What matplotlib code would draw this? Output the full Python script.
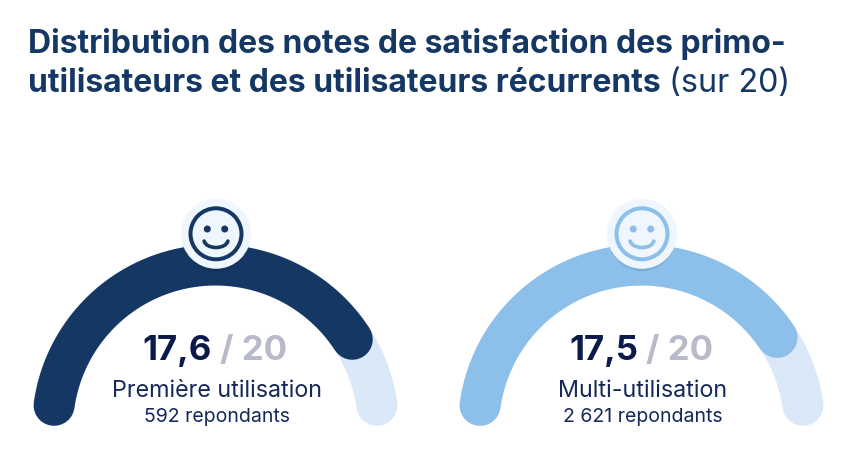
import numpy as np
import matplotlib
matplotlib.use("Agg")
import matplotlib.pyplot as plt
from matplotlib.patches import Circle, Arc

labels = ["Première utilisation", "Multi-utilisation"]
respondents = ["592 repondants", "2 621 repondants"]
scores = [17.6, 17.5]
score_labels = ["17,6", "17,5"]
max_score = 20
fill_colors = ["#153764", "#8CC0EA"]
title_dark = "#153764"
label_dark = "#14295A"

plt.rcParams['font.family'] = ['Inter', 'DejaVu Sans']
fig = plt.figure(figsize=(8.64, 4.62), dpi=100)
ax = fig.add_axes([0, 0, 1, 1])
ax.set_xlim(0, 864)
ax.set_ylim(462, 0)
ax.axis("off")
px = 0.72

R = 163
cy = 428
centers = [215.5, 641.5]
START, END, SWEEP = 172, 8, 158

def arc_line(cx, a0, a1):
    t = np.radians(np.linspace(a0, a1, 200))
    return cx + R * np.cos(t), cy - R * np.sin(t)

for cx, v, col, lab, resp, sl in zip(centers, scores, fill_colors, labels, respondents, score_labels):
    x, y = arc_line(cx, START, END)
    ax.plot(x, y, color="#DBE8F8", lw=41 * px, solid_capstyle="round", zorder=1)
    x, y = arc_line(cx, START, START - v / max_score * SWEEP)
    ax.plot(x, y, color=col, lw=41 * px, solid_capstyle="round", zorder=2)
    # badge
    shadow = "#123158" if col == fill_colors[0] else "#78ACD6"
    ax.add_patch(Circle((cx + 0.5, 237.5), 33.5, color=shadow, zorder=3, lw=0))
    ax.add_patch(Circle((cx + 0.5, 233.8), 35, color="#EFF6FD", zorder=4, lw=0))
    ax.add_patch(Circle((cx + 0.5, 233.8), 25.5, fill=False, ec=col, lw=4 * px, zorder=5))
    for dx in (-8.7, 8.7):
        ax.add_patch(Circle((cx + 0.5 + dx, 229), 3.5, color=col, lw=0, zorder=5))
    ax.add_patch(Arc((cx + 0.5, 240), 24, 15, theta1=5, theta2=175, ec=col, lw=3.6 * px, zorder=5, capstyle="round"))
    # score
    ax.text(cx - 3.5, 351, sl, ha="right", va="center", fontsize=25, fontweight="bold", color="#0B1A48", zorder=6)
    ax.text(cx + 4.5, 351, "/ 20", ha="left", va="center", fontsize=25, fontweight="bold", color="#B8BAC9", zorder=6)
    ax.text(cx + 1, 391, lab, ha="center", va="center", fontsize=16.8, color=label_dark, zorder=6)
    ax.text(cx + 1, 416.5, resp, ha="center", va="center", fontsize=14, color=label_dark, zorder=6)

ax.text(28, 44, "Distribution des notes de satisfaction des primo-", ha="left", va="center",
        fontsize=23, fontweight="bold", color=title_dark)
ax.text(28, 84, "utilisateurs et des utilisateurs récurrents", ha="left", va="center",
        fontsize=23, fontweight="bold", color=title_dark)
ax.text(669, 84, "(sur 20)", ha="left", va="center", fontsize=23.3, color=title_dark)

fig.savefig("out.png", dpi=100, facecolor="white")
